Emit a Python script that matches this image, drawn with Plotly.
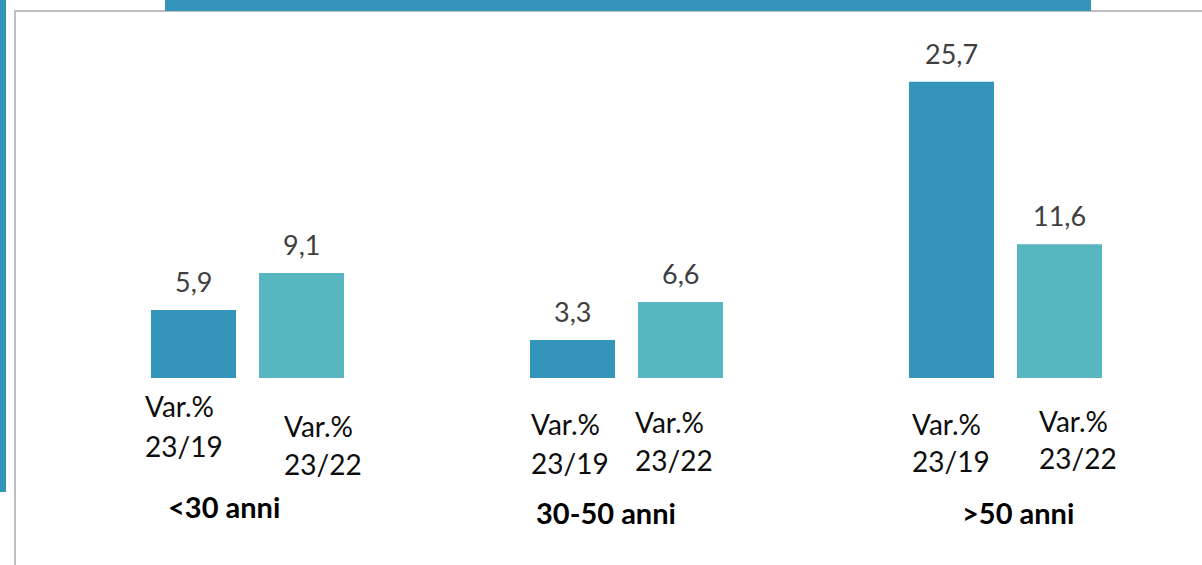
import plotly.graph_objects as go

# ---------------- data ----------------
categories = ["<30 anni", "30-50 anni", ">50 anni"]
var_23_19 = [5.9, 3.3, 25.7]
var_23_22 = [9.1, 6.6, 11.6]
series_labels = [["Var.%", "23/19"], ["Var.%", "23/22"]]

# ---------------- style ----------------
W_FIG, H_FIG = 1202, 565
M_L, M_R, M_T, M_B = 58, 7, 12, 187
PLOT_W = W_FIG - M_L - M_R
PLOT_H = H_FIG - M_T - M_B
BASE_PX = M_T + PLOT_H
C_DARK = "#3494BA"
C_LIGHT = "#58B6C0"
FONT = "Lato, 'Open Sans', sans-serif"


def px_x(p):
    return (p - M_L) / PLOT_W


def px_y(p):
    return (BASE_PX - p) / PLOT_H


fig = go.Figure()
fig.add_trace(go.Bar(x=categories, y=var_23_19, name="Var.% 23/19",
                     marker=dict(color=C_DARK, line=dict(width=0)),
                     hoverinfo="skip"))
fig.add_trace(go.Bar(x=categories, y=var_23_22, name="Var.% 23/22",
                     marker=dict(color=C_LIGHT, line=dict(width=0)),
                     hoverinfo="skip"))

annotations = []
# value labels above the bars
for shift, vals in ((-54, var_23_19), (54, var_23_22)):
    for c, v in zip(categories, vals):
        annotations.append(dict(
            x=c, y=v, xref="x", yref="y", xshift=shift, yshift=10,
            text=f"{v:.1f}".replace(".", ","), showarrow=False,
            xanchor="center", yanchor="bottom",
            font=dict(family=FONT, size=27, color="#404040")))

# series labels below each bar (two lines each)
series_label_pos = [
    [((143, 406), (143, 446)), ((282, 426), (282, 464))],
    [((529, 424), (529, 463)), ((633, 422), (633, 460))],
    [((910, 424), (910, 461)), ((1037, 421), (1037, 458))],
]
for g, pair in enumerate(series_label_pos):
    for s, lines in enumerate(pair):
        for txt, (lx, ly) in zip(series_labels[s], lines):
            annotations.append(dict(
                x=px_x(lx), y=px_y(ly), xref="paper", yref="paper",
                text=txt, showarrow=False, xanchor="left", yanchor="middle",
                font=dict(family=FONT, size=28, color="#0d0d0d")))

# category labels
cat_pos = [(223.5, 506), (606, 512), (1017.5, 512)]
for c, (cx, cy) in zip(categories, cat_pos):
    annotations.append(dict(
        x=px_x(cx), y=px_y(cy), xref="paper", yref="paper",
        text=f"<b>{c.replace('<', '&lt;').replace('>', '&gt;')}</b>",
        showarrow=False, xanchor="center", yanchor="middle",
        font=dict(family=FONT, size=29, color="#000000")))

shapes = [
    # grey frame
    dict(type="rect", xref="paper", yref="paper",
         x0=px_x(15), x1=px_x(1230), y0=px_y(600), y1=px_y(11),
         line=dict(color="#BFBFBF", width=2), fillcolor="rgba(0,0,0,0)", layer="below"),
    # top blue banner
    dict(type="rect", xref="paper", yref="paper",
         x0=px_x(165), x1=px_x(1091), y0=px_y(11), y1=px_y(0),
         line=dict(width=0), fillcolor=C_DARK, layer="above"),
    # left blue stripe
    dict(type="rect", xref="paper", yref="paper",
         x0=px_x(0), x1=px_x(6), y0=px_y(492), y1=px_y(0),
         line=dict(width=0), fillcolor=C_DARK, layer="above"),
]

fig.update_layout(
    width=W_FIG, height=H_FIG,
    margin=dict(l=M_L, r=M_R, t=M_T, b=M_B, pad=0),
    paper_bgcolor="white", plot_bgcolor="white",
    barmode="group", bargap=0.43, bargroupgap=0.213,
    showlegend=False, hovermode=False,
    xaxis=dict(type="category", range=[-0.5, 2.5], showticklabels=False,
               showgrid=False, zeroline=False, showline=False, ticks=""),
    yaxis=dict(range=[0, PLOT_H / 11.53], showticklabels=False,
               showgrid=False, zeroline=False, showline=False, ticks=""),
    annotations=annotations, shapes=shapes,
    font=dict(family=FONT),
)

fig.write_html(
    "out.html",
    config={"displayModeBar": False},
    post_script="document.body.style.margin='0';document.body.style.overflow='hidden';",
)
